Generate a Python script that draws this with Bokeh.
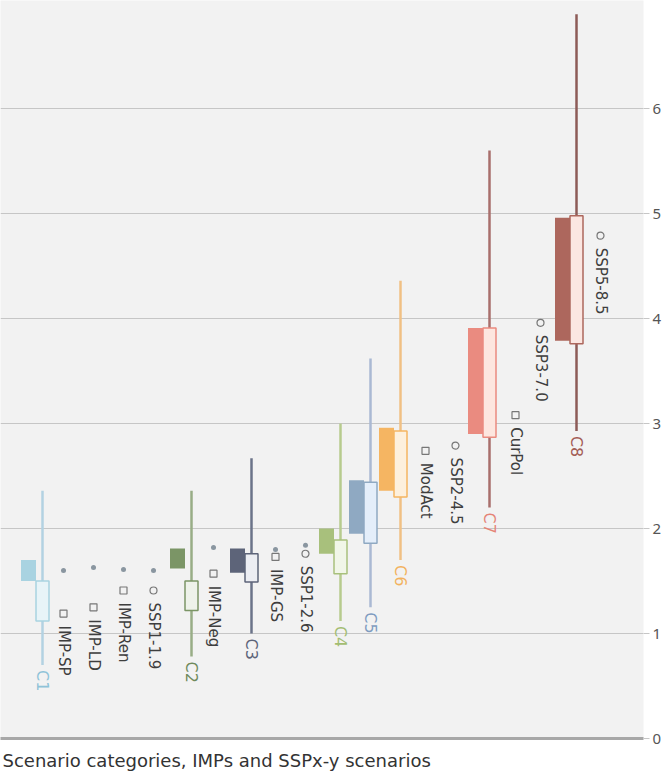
import math
from bokeh.plotting import figure
from bokeh.models import Range1d, FixedTicker, Title
from bokeh.core.properties import value
from bokeh.embed import file_html
from bokeh.resources import INLINE

nan = float("nan")

# Scenario categories and their warming ranges (°C)
categories = ["C1", "C2", "C3", "C4", "C5", "C6", "C7", "C8"]
range_low = [0.70, 0.78, 1.00, 1.12, 1.25, 1.70, 2.20, 2.93]
range_high = [2.36, 2.36, 2.67, 3.00, 3.62, 4.36, 5.60, 6.90]
peak_low = [1.50, 1.62, 1.58, 1.76, 1.95, 2.36, 2.90, 3.79]
peak_high = [1.70, 1.81, 1.81, 2.00, 2.46, 2.96, 3.91, 4.96]
end_low = [1.12, 1.22, 1.49, 1.57, 1.86, 2.30, 2.87, 3.76]
end_high = [1.50, 1.50, 1.76, 1.89, 2.44, 2.93, 3.91, 4.98]

# Illustrative pathways (IMPs) and SSPx-y scenarios
scenarios = ["IMP-SP", "IMP-LD", "IMP-Ren", "SSP1-1.9", "IMP-Neg", "IMP-GS",
             "SSP1-2.6", "ModAct", "SSP2-4.5", "CurPol", "SSP3-7.0", "SSP5-8.5"]
scen_peak = [1.60, 1.63, 1.61, 1.60, 1.82, 1.80, 1.84, nan, nan, nan, nan, nan]
scen_end = [1.19, 1.25, 1.41, 1.41, 1.57, 1.73, 1.76, 2.74, 2.79, 3.08, 3.96, 4.79]
scen_kind = ["IMP", "IMP", "IMP", "SSP", "IMP", "IMP", "SSP", "IMP", "SSP", "IMP", "SSP", "SSP"]

y_ticks = [0, 1, 2, 3, 4, 5, 6]
x_title = "Scenario categories, IMPs and SSPx-y scenarios"

# Layout: horizontal slots (frame pixels) for each column
cat_x = [42, 191, 251, 340, 370, 400, 489, 576]
scen_x = [63, 93, 123, 153, 213, 275, 305, 425, 455, 515, 540, 600]
dark_w = 15
light_w = 13

# Colours
cat_dark = ["#a9d3e1", "#7b9566", "#5d6479", "#a8c07c", "#8fa9c2", "#f5b562", "#ea8b80", "#ad675d"]
cat_line = ["#b3d2e2", "#98ad86", "#6b7389", "#b7cb8e", "#aab9d3", "#f0c084", "#a86f6c", "#8d5b57"]
cat_light = ["#e8f4f8", "#eef2ea", "#eceef3", "#f1f6e8", "#e4eefa", "#fdf0dd", "#fde6df", "#fbe6e1"]
cat_text = ["#8fc3d8", "#6f8a5c", "#5d6479", "#a3bd72", "#7f9cc0", "#f2b25e", "#e58476", "#a35c55"]
FONT = "DejaVu Sans"

p = figure(width=665, height=782, output_backend="svg", toolbar_location=None,
           x_range=Range1d(0, 643), y_range=Range1d(0, 7.03),
           y_axis_location="right", min_border_left=0, min_border_top=0,
           min_border_right=22, min_border_bottom=44)
p.background_fill_color = "#f2f2f2"
p.border_fill_color = "white"
p.outline_line_color = None

# y axis on the right
p.yaxis.ticker = FixedTicker(ticks=y_ticks)
p.yaxis.axis_line_color = None
p.yaxis.major_tick_in = 0
p.yaxis.major_tick_out = 6
p.yaxis.major_tick_line_color = "#c6c6c6"
p.yaxis.minor_tick_line_color = None
p.yaxis.major_label_standoff = 3
p.yaxis.major_label_text_font = "Noto Sans"
p.yaxis.major_label_text_font_size = "15px"
p.yaxis.major_label_text_color = "#555555"

# baseline axis without ticks
p.xaxis.ticker = FixedTicker(ticks=[])
p.xaxis.axis_line_color = "#a8a8a8"
p.xaxis.axis_line_width = 3
p.xaxis.major_tick_line_color = None
p.xaxis.minor_tick_line_color = None
p.xaxis.major_label_text_font_size = "0px"

p.xgrid.grid_line_color = None
p.ygrid.grid_line_color = "#c6c6c6"
p.ygrid.grid_line_width = 1

# whiskers
p.segment(x0=cat_x, y0=range_low, x1=cat_x, y1=range_high,
          line_color=cat_line, line_width=2.5)

# peak warming boxes (left) and end-of-century boxes (centred on whisker)
half = light_w / 2
p.quad(left=[x - half - dark_w for x in cat_x], right=[x - half for x in cat_x],
       bottom=peak_low, top=peak_high, fill_color=cat_dark, line_color=None)
p.quad(left=[x - half for x in cat_x], right=[x + half for x in cat_x],
       bottom=end_low, top=end_high, fill_color=cat_light, line_color=cat_dark,
       line_width=1.5)

# category labels under the whiskers
p.text(x=cat_x, y=range_low, text=categories, angle=-math.pi / 2,
       text_align="left", text_baseline="middle", y_offset=5,
       text_color=cat_text, text_font=value(FONT), text_font_size="16px")

# scenario markers and labels
imp_x = [x for x, k in zip(scen_x, scen_kind) if k == "IMP"]
imp_y = [v for v, k in zip(scen_end, scen_kind) if k == "IMP"]
ssp_x = [x for x, k in zip(scen_x, scen_kind) if k == "SSP"]
ssp_y = [v for v, k in zip(scen_end, scen_kind) if k == "SSP"]
p.scatter(x=scen_x, y=scen_peak, marker="circle", size=5, fill_color="#8a96a0",
          line_color=None)
p.scatter(x=imp_x, y=imp_y, marker="square", size=7, fill_color=None,
          line_color="#777777", line_width=1.2)
p.scatter(x=ssp_x, y=ssp_y, marker="circle", size=7, fill_color=None,
          line_color="#777777", line_width=1.2)
p.text(x=scen_x, y=scen_end, text=scenarios, angle=-math.pi / 2,
       text_align="left", text_baseline="middle", y_offset=12,
       text_color="#3e3e3e", text_font=value(FONT), text_font_size="15px")

# blank spacer title keeps a gap between the baseline and the caption
p.add_layout(Title(text=" ", text_font_size="7px", standoff=0), "below")
p.add_layout(Title(text=x_title, align="left",
                   text_font=FONT, text_font_size="18px", text_font_style="normal",
                   text_color="#333333", offset=2, standoff=0), "below")

open("out.html", "w").write(file_html(p, INLINE))
